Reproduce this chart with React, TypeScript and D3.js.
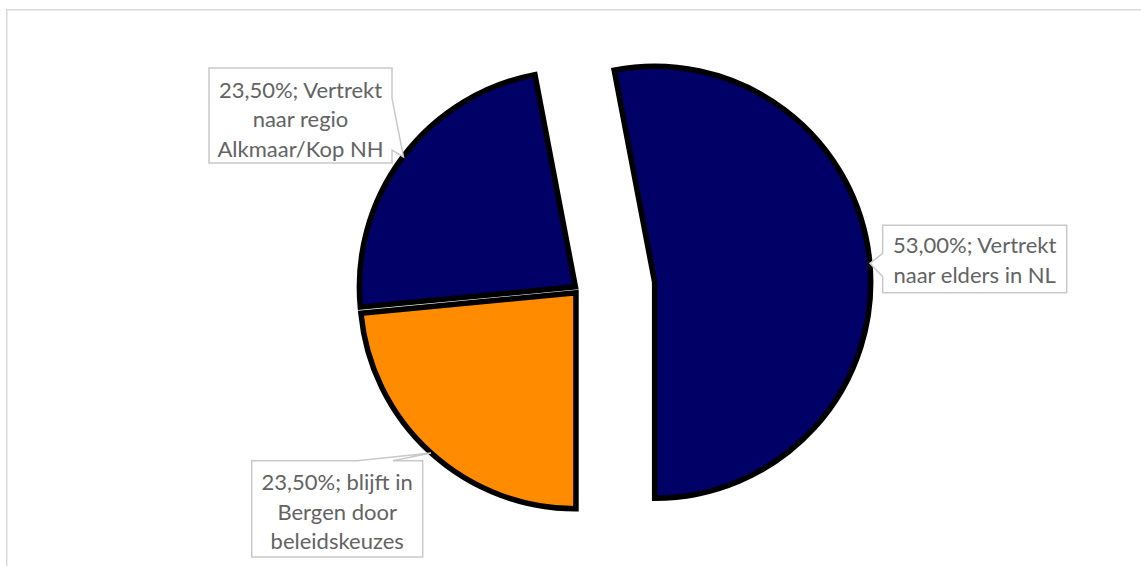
import React from "react";
import * as d3 from "d3";

// ---- data ----
const categories = [
  "Vertrekt naar elders in NL",
  "blijft in Bergen door beleidskeuzes",
  "Vertrekt naar regio Alkmaar/Kop NH",
];
const values = [53.0, 23.5, 23.5];
const labelLines = [
  ["Vertrekt", "naar elders in NL"],
  ["blijft in", "Bergen door", "beleidskeuzes"],
  ["Vertrekt", "naar regio", "Alkmaar/Kop NH"],
];
const sliceColors = ["#000066", "#FF8C00", "#000066"];
const explode = [76, 4.5, 4.5];

// ---- layout ----
const W = 1141;
const H = 566;
const CX = 579;
const CY = 289.5;
const R = 216;
const FIRST_END_DEG = 180; // first slice ends at the bottom

type Box = {
  x0: number; y0: number; x1: number; y1: number;
  side: "left" | "right" | "top";
  a: number; b: number; tip: [number, number];
  firstBase: number;
};
const boxes: Box[] = [
  { x0: 882.7, y0: 225.3, x1: 1066.7, y1: 292.7, side: "left", a: 253.3, b: 276.7, tip: [870, 263.3], firstBase: 28 },
  { x0: 251.7, y0: 460.7, x1: 422.7, y1: 557, side: "top", a: 357, b: 393, tip: [431, 453], firstBase: 29.5 },
  { x0: 209, y0: 68, x1: 392, y1: 163, side: "right", a: 98.3, b: 150, tip: [403.5, 157], firstBase: 30 },
];

function calloutPath(b: Box): string {
  const { x0, y0, x1, y1, a, tip } = b;
  const bb = b.b;
  if (b.side === "left") {
    return `M${x0},${y0}L${x1},${y0}L${x1},${y1}L${x0},${y1}L${x0},${bb}L${tip[0]},${tip[1]}L${x0},${a}Z`;
  }
  if (b.side === "right") {
    return `M${x0},${y0}L${x1},${y0}L${x1},${a}L${tip[0]},${tip[1]}L${x1},${bb}L${x1},${y1}L${x0},${y1}Z`;
  }
  return `M${x0},${y0}L${a},${y0}L${tip[0]},${tip[1]}L${bb},${y0}L${x1},${y0}L${x1},${y1}L${x0},${y1}Z`;
}

const fmt = (v: number) => d3.format(".2f")(v).replace(".", ",");

export default function App() {
  const total = d3.sum(values);
  const startAngle = (FIRST_END_DEG * Math.PI) / 180 - (values[0] / total) * 2 * Math.PI;
  const pie = d3
    .pie<number>()
    .sort(null)
    .value((d) => d)
    .startAngle(startAngle)
    .endAngle(startAngle + 2 * Math.PI);
  const arcs = pie(values);
  const arc = d3.arc<d3.PieArcDatum<number>>().innerRadius(0).outerRadius(R);

  const lineH = 29.3;

  return (
    <svg
      width={W}
      height={H}
      style={{ position: "absolute", left: 0, top: 0, background: "#fff" }}
      xmlns="http://www.w3.org/2000/svg"
    >
      <rect x={0} y={0} width={W} height={H} fill="#ffffff" />
      <path
        d={`M6.75,${H + 5}L6.75,9.75L${W + 5},9.75`}
        fill="none"
        stroke="#d9d9d9"
        strokeWidth={1.5}
      />
      {arcs.map((d, i) => {
        const mid = (d.startAngle + d.endAngle) / 2;
        const dx = explode[i] * Math.sin(mid);
        const dy = -explode[i] * Math.cos(mid);
        return (
          <path
            key={categories[i]}
            d={arc(d) || ""}
            transform={`translate(${CX + dx},${CY + dy})`}
            fill={sliceColors[i]}
            stroke="#000000"
            strokeWidth={5.5}
            strokeLinejoin="miter"
          />
        );
      })}
      {boxes.map((b, i) => {
        const lines = [`${fmt(values[i])}%; ${labelLines[i][0]}`, ...labelLines[i].slice(1)];
        const cx = (b.x0 + b.x1) / 2;
        return (
          <g key={"lab" + i}>
            <path d={calloutPath(b)} fill="#ffffff" stroke="#c9c9c9" strokeWidth={1.5} />
            <text
              fontFamily="Lato, 'Open Sans', sans-serif"
              fontSize={22}
              fill="#636363"
              textAnchor="middle"
            >
              {lines.map((t, j) => (
                <tspan key={j} x={cx} y={b.y0 + b.firstBase + j * lineH}>
                  {t}
                </tspan>
              ))}
            </text>
          </g>
        );
      })}
    </svg>
  );
}
